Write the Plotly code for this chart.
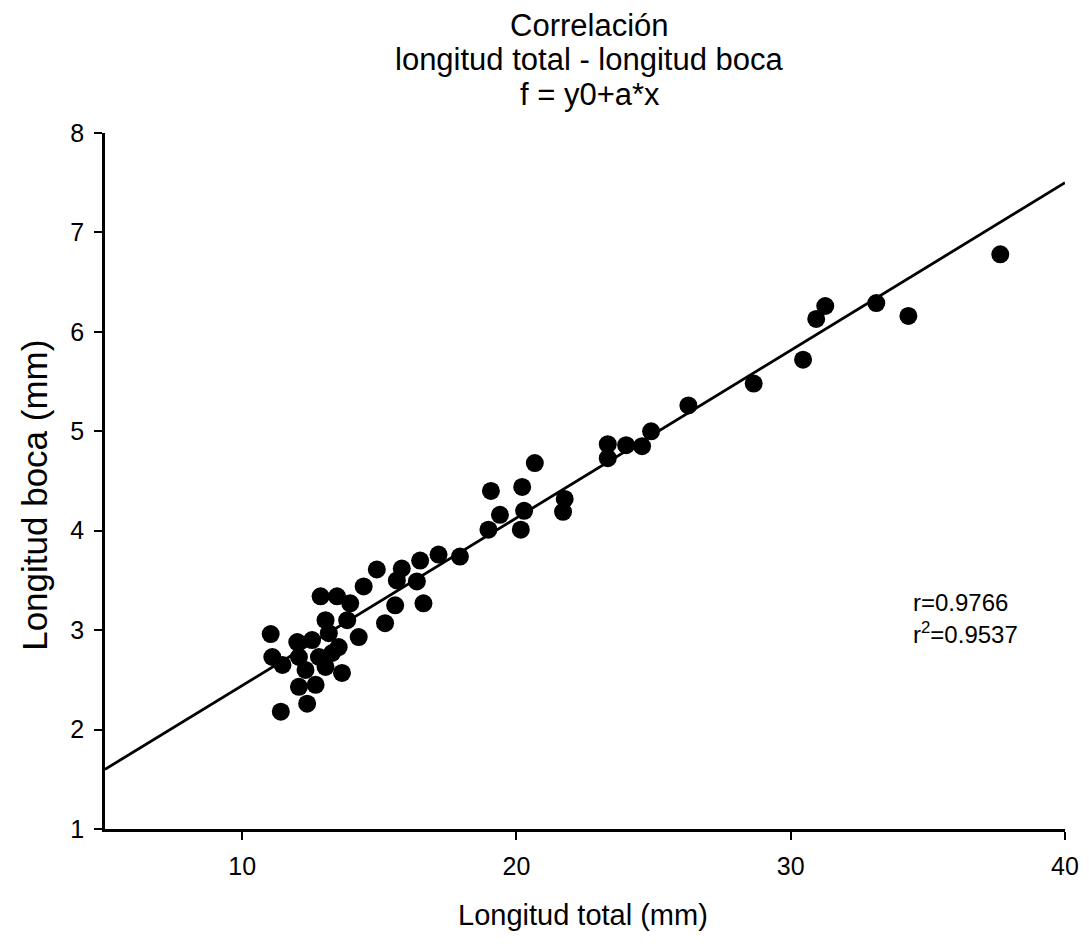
import plotly.graph_objects as go

# longitud total (mm) vs longitud boca (mm)
longitud_total = [
    11.04, 11.10, 11.41, 11.47, 12.01, 12.07, 12.07, 12.31, 12.37, 12.55,
    12.68, 12.80, 12.86, 13.04, 13.04, 13.16, 13.28, 13.46, 13.52, 13.64,
    13.83, 13.94, 14.25, 14.43, 14.91, 15.21, 15.58, 15.64, 15.82, 16.37,
    16.49, 16.61, 17.16, 17.94, 18.98, 19.07, 19.40, 20.16, 20.21, 20.28,
    20.67, 21.70, 21.76, 23.33, 23.33, 24.00, 24.58, 24.91, 26.27, 28.65,
    30.45, 30.93, 31.26, 33.12, 34.29, 37.64,
]
longitud_boca = [
    2.96, 2.73, 2.18, 2.65, 2.88, 2.43, 2.73, 2.60, 2.26, 2.90,
    2.45, 2.73, 3.34, 3.10, 2.63, 2.97, 2.77, 3.34, 2.83, 2.57,
    3.10, 3.27, 2.93, 3.44, 3.61, 3.07, 3.25, 3.50, 3.62, 3.49,
    3.70, 3.27, 3.76, 3.74, 4.01, 4.40, 4.16, 4.01, 4.44, 4.20,
    4.68, 4.19, 4.32, 4.73, 4.87, 4.86, 4.85, 5.00, 5.26, 5.48,
    5.72, 6.13, 6.26, 6.29, 6.16, 6.78,
]

# regression line f = y0 + a*x, end points
fit_x = [5, 40]
fit_y = [1.60, 7.50]

title_lines = ["Correlación", "longitud total - longitud boca", "f = y0+a*x"]
stats_lines = ["r=0.9766", "r<sup>2</sup>=0.9537"]

font = "Arial, Liberation Sans, sans-serif"

fig = go.Figure()
fig.add_trace(go.Scatter(
    x=fit_x, y=fit_y, mode="lines",
    line=dict(color="black", width=2.8), showlegend=False,
))
fig.add_trace(go.Scatter(
    x=longitud_total, y=longitud_boca, mode="markers",
    marker=dict(color="black", size=18), showlegend=False,
))

annotations = []
for text, yy in zip(title_lines, [1.155, 1.106, 1.055]):
    annotations.append(dict(
        x=0.505, y=yy, xref="paper", yref="paper", text=text,
        showarrow=False, xanchor="center", yanchor="middle",
        font=dict(size=31),
    ))
for text, yy in zip(stats_lines, [3.28, 2.97]):
    annotations.append(dict(
        x=34.4, y=yy, xref="x", yref="y", text=text,
        showarrow=False, xanchor="left", yanchor="middle",
        font=dict(size=24),
    ))
annotations.append(dict(
    x=0.498, y=-0.124, xref="paper", yref="paper", text="Longitud total (mm)",
    showarrow=False, xanchor="center", yanchor="middle", font=dict(size=29),
))
annotations.append(dict(
    x=-0.073, y=0.48, xref="paper", yref="paper", text="Longitud boca (mm)",
    showarrow=False, xanchor="center", yanchor="middle", textangle=-90,
    font=dict(size=35),
))

fig.update_layout(
    width=1073, height=928,
    margin=dict(l=97, r=16, t=125, b=107, autoexpand=False),
    plot_bgcolor="white", paper_bgcolor="white",
    font=dict(family=font, color="black", size=25),
    annotations=annotations,
)
fig.update_xaxes(
    range=[5, 40], tickvals=[10, 20, 30, 40], automargin=False,
    showline=True, linecolor="black", linewidth=2.5,
    ticks="outside", ticklen=8, tickwidth=2, tickcolor="black",
    ticklabelstandoff=5, ticklabeloverflow="allow", tickfont=dict(size=25),
    showgrid=False, zeroline=False,
)
fig.update_yaxes(
    range=[1, 8], dtick=1, automargin=False,
    showline=True, linecolor="black", linewidth=2.5,
    ticks="outside", ticklen=8, tickwidth=2, tickcolor="black",
    ticklabelstandoff=5, tickfont=dict(size=25),
    showgrid=False, zeroline=False,
)

fig.write_html("out.html")
